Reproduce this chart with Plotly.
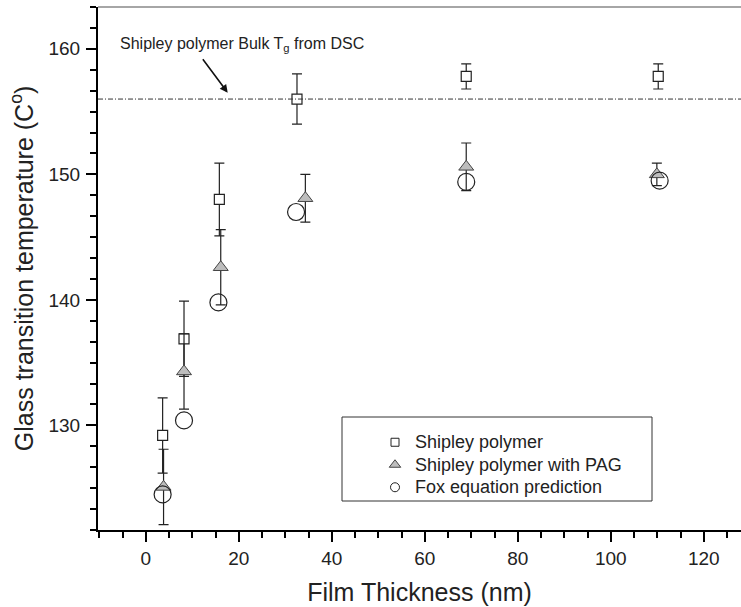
import plotly.graph_objects as go

# ---- data ----
sq_x = [3.6, 8.2, 15.8, 32.5, 68.9, 110.2]
sq_y = [129.2, 136.9, 148.0, 156.0, 157.8, 157.8]
sq_err = [3.0, 3.0, 2.9, 2.0, 1.0, 1.0]

tri_x = [3.8, 8.2, 16.1, 34.3, 68.9, 109.9]
tri_y = [125.1, 134.3, 142.6, 148.1, 150.6, 150.0]
tri_err = [3.0, 3.0, 3.0, 1.9, 1.9, 0.9]

fox_x = [3.6, 8.2, 15.6, 32.3, 68.9, 110.5]
fox_y = [124.5, 130.4, 139.8, 147.0, 149.4, 149.5]

bulk_tg = 156.0
series_names = ["Shipley polymer", "Shipley polymer with PAG", "Fox equation prediction"]

FONT = "Liberation Sans, Arial, sans-serif"
W, H = 741, 607
ML, MR, MT, MB = 98, 0, 7, 77
PW, PH = W - ML - MR, H - MT - MB


def px_to_paper_x(px):
    return (px - ML) / PW


def px_to_paper_y(py):
    return (H - MB - py) / PH


def legend_label(name):
    return '<span style="font-size:18px">' + name + '</span>'


fig = go.Figure()

err_style = dict(type="data", color="#222222", thickness=1.2, width=5)

fig.add_trace(go.Scatter(
    x=sq_x, y=sq_y, mode="markers", showlegend=False,
    error_y=dict(array=sq_err, **err_style),
    marker=dict(symbol="square", size=10, color="white", line=dict(color="#222222", width=1.2)),
))
fig.add_trace(go.Scatter(
    x=tri_x, y=tri_y, mode="markers", showlegend=False,
    error_y=dict(array=tri_err, **err_style),
    marker=dict(symbol="triangle-up", size=13, color="#bdbdbd", line=dict(color="#444444", width=1)),
))
fig.add_trace(go.Scatter(
    x=fox_x, y=fox_y, mode="markers", showlegend=False,
    marker=dict(symbol="circle-open", size=17, color="#222222", line=dict(color="#222222", width=1.2)),
))

# legend entries (small symbols as in the reference)
fig.add_trace(go.Scatter(x=[None], y=[None], mode="markers", name=legend_label(series_names[0]),
                         marker=dict(symbol="square", size=8, color="white", line=dict(color="#222222", width=1))))
fig.add_trace(go.Scatter(x=[None], y=[None], mode="markers", name=legend_label(series_names[1]),
                         marker=dict(symbol="triangle-up", size=10, color="#bdbdbd", line=dict(color="#444444", width=1))))
fig.add_trace(go.Scatter(x=[None], y=[None], mode="markers", name=legend_label(series_names[2]),
                         marker=dict(symbol="circle-open", size=9, color="#222222", line=dict(color="#222222", width=1))))

shapes = [
    # bulk Tg dash-dot line
    dict(type="line", xref="paper", x0=0, x1=1, yref="y", y0=bulk_tg, y1=bulk_tg,
         line=dict(color="#333333", width=1, dash="5px,2px,1px,2px")),
    # top frame line
    dict(type="line", xref="paper", x0=0, x1=1, yref="paper", y0=1, y1=1,
         line=dict(color="#888888", width=1.5)),
    # legend box
    dict(type="rect", xref="paper", yref="paper",
         x0=px_to_paper_x(342), x1=px_to_paper_x(652),
         y0=px_to_paper_y(501), y1=px_to_paper_y(417),
         line=dict(color="#333333", width=1), fillcolor="rgba(0,0,0,0)"),
]

annotations = [
    dict(text="Shipley polymer Bulk T<sub>g</sub> from DSC", xref="paper", yref="paper",
         x=px_to_paper_x(118), y=px_to_paper_y(44), xanchor="left", yanchor="middle",
         showarrow=False, font=dict(family=FONT, size=16, color="#222222")),
    dict(text="", x=17.6, y=156.5, xref="x", yref="y", ax=-26, ay=-35,
         showarrow=True, arrowhead=2, arrowsize=1, arrowwidth=1.6, arrowcolor="#111111"),
]

fig.update_layout(
    width=W, height=H, autosize=False,
    margin=dict(l=ML, r=MR, t=MT, b=MB, pad=0),
    paper_bgcolor="white", plot_bgcolor="white",
    font=dict(family=FONT, color="#222222"),
    shapes=shapes, annotations=annotations,
    legend=dict(x=px_to_paper_x(375), y=px_to_paper_y(426), xanchor="left", yanchor="top",
                bgcolor="rgba(0,0,0,0)", borderwidth=0, font=dict(family=FONT, size=15, color="#222222"),
                tracegroupgap=0),
    xaxis=dict(
        range=[-10.3, 128], showgrid=False, zeroline=False,
        showline=True, linecolor="black", linewidth=2,
        ticks="outside", ticklen=10, tickwidth=2, tickcolor="black",
        tick0=0, dtick=20, tickfont=dict(family=FONT, size=19, color="#222222"),
        minor=dict(dtick=5, tick0=0, ticks="outside", ticklen=6, tickwidth=1.5, tickcolor="black"),
        title=dict(text="Film Thickness (nm)", font=dict(family=FONT, size=25, color="#222222"), standoff=16),
    ),
    yaxis=dict(
        range=[121.667, 163.333], showgrid=False, zeroline=False,
        showline=True, linecolor="black", linewidth=2,
        ticks="outside", ticklen=10, tickwidth=2, tickcolor="black",
        tick0=0, dtick=10, tickfont=dict(family=FONT, size=19, color="#222222"),
        ticklabelstandoff=2,
        minor=dict(dtick=10 / 6, tick0=0, ticks="outside", ticklen=6, tickwidth=1.5, tickcolor="black"),
        title=dict(text="Glass transition temperature (C<sup>o</sup>)",
                   font=dict(family=FONT, size=25, color="#222222"), standoff=8),
    ),
)

fig.write_html("out.html")
